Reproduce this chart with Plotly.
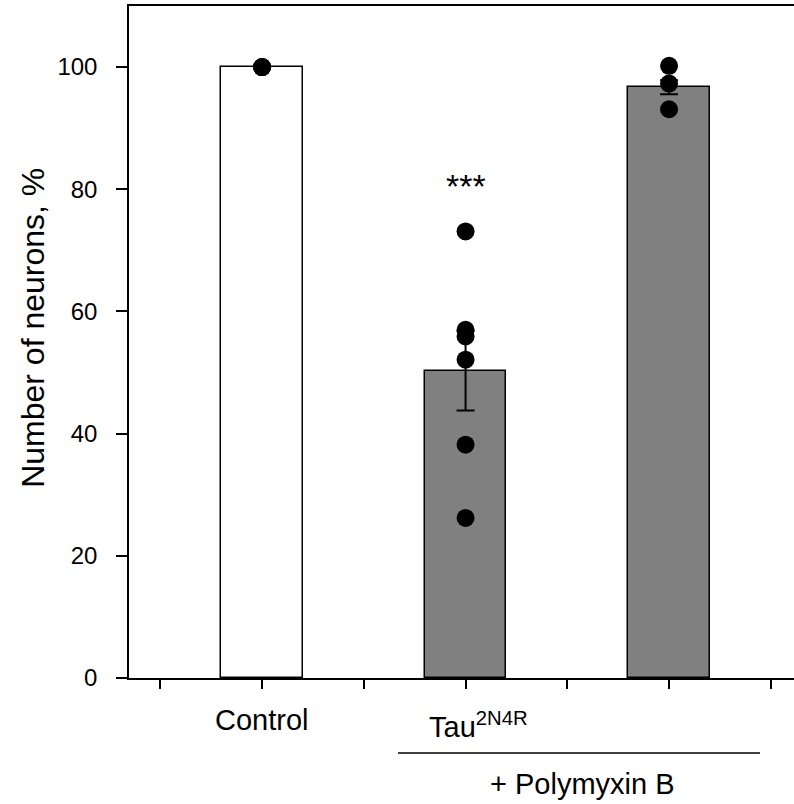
import plotly.graph_objects as go

# ---- data ----
groups = [1, 2, 3]
group_labels = ["Control", "Tau<sup>2N4R</sup>", ""]
means = [100.0, 50.3, 96.7]
errors = [0.0, 6.5, 1.15]
bar_colors = ["#ffffff", "#808080", "#808080"]
points_control = [100, 100, 100]
points_tau = [73.1, 57.0, 55.9, 52.1, 38.2, 26.2]
points_pmb = [100.2, 97.3, 93.1]
y_ticks = [0, 20, 40, 60, 80, 100]
x_ticks = [0.5, 1, 1.5, 2, 2.5, 3, 3.5]
signif_text = "***"
signif_y = 80.5
bracket_label = "+ Polymyxin B"
y_title = "Number of neurons, %"

FONT = "Liberation Sans, Arial, sans-serif"

fig = go.Figure()
fig.add_trace(go.Bar(
    x=groups, y=means, width=0.4,
    marker=dict(color=bar_colors, line=dict(color="black", width=1.5)),
    showlegend=False,
))
fig.add_trace(go.Scatter(
    x=groups, y=means, mode="markers",
    marker=dict(size=1, opacity=0),
    error_y=dict(type="data", array=errors, visible=True,
                 color="black", thickness=2, width=9),
    showlegend=False, hoverinfo="skip",
))
for gx, pts in zip(groups, [points_control, points_tau, points_pmb]):
    fig.add_trace(go.Scatter(
        x=[gx] * len(pts), y=pts, mode="markers",
        marker=dict(size=18, color="black"),
        showlegend=False,
    ))

fig.update_layout(
    width=794, height=804,
    margin=dict(l=129, r=0, t=6, b=126),
    plot_bgcolor="white", paper_bgcolor="white",
    font=dict(family=FONT, color="black"),
    bargap=0,
)
fig.update_xaxes(
    range=[0.346, 3.614], tickvals=x_ticks, showticklabels=False,
    ticks="outside", ticklen=9, tickwidth=1.5, tickcolor="black",
    showline=True, linecolor="black", linewidth=1.5, mirror=True,
    showgrid=False, zeroline=False,
)
fig.update_yaxes(
    range=[0, 110], tickvals=y_ticks,
    ticks="outside", ticklen=11, tickwidth=1.5, tickcolor="black",
    tickfont=dict(size=24, family=FONT),
    ticklabelstandoff=14,
    showline=True, linecolor="black", linewidth=1.5,
    showgrid=False, zeroline=False,
)

# category labels
fig.add_annotation(x=groups[0], y=-0.062, xref="x", yref="paper",
                   text=group_labels[0], showarrow=False,
                   font=dict(size=29), xanchor="center", yanchor="middle")
fig.add_annotation(x=groups[1], y=-0.07, xref="x", yref="paper",
                   text=group_labels[1], showarrow=False, xshift=13,
                   font=dict(size=29), xanchor="center", yanchor="middle")
# bracket line and label
fig.add_shape(type="line", xref="x", yref="paper",
              x0=1.668, x1=3.447, y0=-0.1116, y1=-0.1116,
              line=dict(color="black", width=1.5))
fig.add_annotation(x=2.575, y=-0.157, xref="x", yref="paper",
                   text=bracket_label, showarrow=False,
                   font=dict(size=29), xanchor="center", yanchor="middle")
# significance
fig.add_annotation(x=groups[1], y=signif_y, xref="x", yref="y",
                   text=signif_text, showarrow=False,
                   font=dict(size=34), xanchor="center", yanchor="middle")
# y title
fig.add_annotation(x=-0.1444, y=0.521, xref="paper", yref="paper",
                   text=y_title, textangle=-90, showarrow=False,
                   font=dict(size=32), xanchor="center", yanchor="middle")

fig.write_html("out.html", config={"displayModeBar": False},
               post_script="document.body.style.margin='0px';")
